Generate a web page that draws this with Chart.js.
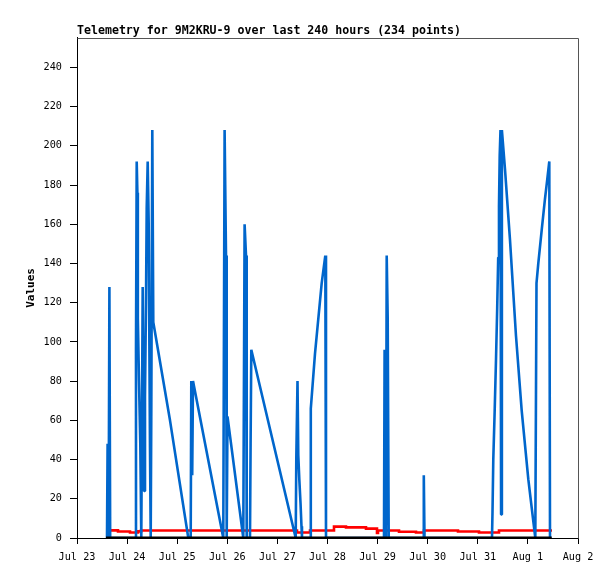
<!DOCTYPE html>
<html>
<head>
<meta charset="utf-8">
<style>
  html, body { margin: 0; padding: 0; background: #ffffff; }
  #wrap { width: 615px; height: 579px; }
</style>
<script src="https://cdn.jsdelivr.net/npm/chart.js@4.4.1/dist/chart.umd.min.js"></script>
</head>
<body>
<div id="wrap"><canvas id="c" width="615" height="579"></canvas></div>
<script>
// Hours since Jul 23 00:00
const tickLabels = ['Jul 23','Jul 24','Jul 25','Jul 26','Jul 27','Jul 28','Jul 29','Jul 30','Jul 31','Aug 1','Aug 2'];

const blueHours = [
  14.37, 14.66, 15.14, 15.52, 15.90,
  27.93, 28.26, 28.60, 28.93, 29.08, 29.22, 29.70, 30.32, 30.80, 31.47, 32.10, 32.57, 33.05, 33.39, 33.87,
  34.35, 34.63, 34.97, 35.31, 35.59, 36.07, 36.55, 44.55, 53.32,
  54.47, 54.75, 55.19, 55.57, 70.08,
  70.71, 71.38, 71.71, 72.09, 79.66,
  80.29, 80.96, 81.29, 82.87, 83.16, 83.50, 104.77,
  105.05, 105.63, 106.01, 106.49, 107.07, 107.54, 107.78,
  111.76, 112.00, 114.01, 117.22, 118.95, 119.28,
  147.06, 147.35, 147.78, 148.02, 148.36, 148.84, 149.32,
  165.89, 166.13, 166.47,
  198.80, 199.04, 199.42, 200.09, 200.72, 201.29, 201.77, 202.15, 202.49, 202.87, 203.16, 203.54,
  205.03, 207.42, 210.30, 213.03, 216.19, 219.55,
  220.12, 220.98, 222.61, 224.19, 225.29, 226.25, 226.59, 227.30
];
const blueValues = [
  0, 48, 0, 128, 0,
  0, 96, 192, 176, 144, 112, 80, 48, 0, 128, 24, 72, 120, 168, 192,
  160, 104, 46, 0, 64, 208, 110, 60, 0,
  0, 80, 32, 80, 0,
  208, 144, 0, 62, 0,
  160, 144, 0, 0, 48, 96, 0,
  40, 80, 42, 30, 18, 6, 0,
  0, 66, 94, 130, 144, 0,
  0, 96, 64, 0, 144, 112, 0,
  0, 32, 0,
  0, 13, 40, 65, 91, 117, 143, 169, 195, 208, 12, 208,
  188, 152, 103, 65, 30, 0,
  130, 140, 157, 173, 183, 192, 0, 0
];

const redHours = [14.85, 19.64, 25.39, 29.22, 30.66, 105.39, 111.62, 123.11, 128.86, 138.44, 143.71, 144.19, 154.25, 162.39, 166.23, 182.51, 192.57, 202.15, 227.54];
const redValues = [3.9, 3.3, 2.8, 3.4, 3.8, 2.8, 3.8, 5.8, 5.4, 4.8, 2.6, 3.8, 3.2, 2.8, 3.8, 3.3, 2.8, 3.8, 3.8];

const zeroHours = [13.89, 227.40];
const zeroValues = [0, 0];

function pts(xs, ys) { return xs.map((x, i) => ({ x: x, y: ys[i] })); }

const frame = {
  id: 'frame',
  afterDraw(chart) {
    const a = chart.chartArea, ctx = chart.ctx;
    ctx.save();
    ctx.strokeStyle = '#555555';
    ctx.lineWidth = 1;
    ctx.beginPath();
    ctx.moveTo(Math.round(a.left) + 0.5, Math.round(a.top) + 0.5);
    ctx.lineTo(Math.round(a.right) + 0.5, Math.round(a.top) + 0.5);
    ctx.lineTo(Math.round(a.right) + 0.5, Math.round(a.bottom) + 0.5);
    ctx.stroke();
    ctx.restore();
  }
};

const mono = "'DejaVu Sans Mono', 'Liberation Mono', monospace";

new Chart(document.getElementById('c'), {
  type: 'line',
  data: {
    datasets: [
      { label: 'zero', data: pts(zeroHours, zeroValues), borderColor: '#000000', borderWidth: 3, pointRadius: 0, tension: 0, order: 0 },
      { label: 'values', data: pts(blueHours, blueValues), borderColor: '#0066cc', borderWidth: 2.6, pointRadius: 0, tension: 0, borderJoinStyle: 'bevel', order: 1 },
      { label: 'red', data: pts(redHours, redValues), borderColor: '#ff0000', borderWidth: 2.6, pointRadius: 0, tension: 0, stepped: 'before', order: 2 }
    ]
  },
  options: {
    responsive: false,
    animation: false,
    events: [],
    layout: { padding: { left: 0, right: 37, top: 0, bottom: 0 } },
    plugins: {
      legend: { display: false },
      tooltip: { enabled: false },
      title: {
        display: true,
        text: 'Telemetry for 9M2KRU-9 over last 240 hours (234 points)',
        align: 'start',
        fullSize: false,
        color: '#000000',
        font: { family: mono, size: 11.6, weight: 'bold', lineHeight: 1.2 },
        padding: { top: 24, bottom: 0 }
      }
    },
    scales: {
      x: {
        type: 'linear',
        min: 0,
        max: 240,
        afterFit(scale) { scale.height = 41; },
        border: { display: true, color: '#000000', width: 1 },
        grid: { drawOnChartArea: false, drawTicks: true, tickLength: 6, color: '#000000' },
        ticks: {
          stepSize: 24,
          includeBounds: false,
          autoSkip: false,
          maxRotation: 0,
          color: '#000000',
          padding: 7,
          font: { family: mono, size: 10.2 },
          callback: (v) => tickLabels[Math.round(v / 24)]
        }
      },
      y: {
        type: 'linear',
        min: 0,
        max: 255,
        afterFit(scale) { scale.width = 77; },
        border: { display: true, color: '#000000', width: 1 },
        grid: { drawOnChartArea: false, drawTicks: true, tickLength: 7, color: '#000000' },
        title: {
          display: true,
          text: 'Values',
          color: '#000000',
          font: { family: mono, size: 11, weight: 'bold', lineHeight: 1.2 },
          padding: { top: 25, bottom: 0 }
        },
        ticks: {
          stepSize: 20,
          includeBounds: false,
          color: '#000000',
          padding: 8,
          font: { family: mono, size: 10.2 }
        }
      }
    }
  },
  plugins: [frame]
});
</script>
</body>
</html>
